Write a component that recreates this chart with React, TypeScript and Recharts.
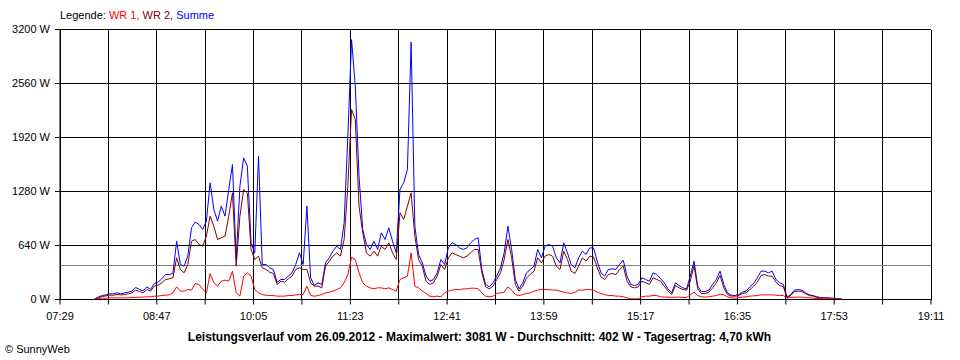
import React from 'react';
import { LineChart, Line, XAxis, YAxis, CartesianGrid, ReferenceLine } from 'recharts';

// samples every 3 minutes, first one at 07:57
const START_MIN = 477;
const STEP_MIN = 3;

const summe = [
  8, 30, 47, 55, 67, 67, 79, 67, 79, 87,
  99, 142, 119, 103, 150, 119, 190, 205, 245, 296,
  296, 308, 691, 415, 395, 514, 850, 917, 889, 830,
  929, 1383, 1067, 929, 1106, 988, 1304, 1600, 474, 1343,
  1679, 1580, 672, 553, 1699, 415, 415, 375, 356, 205,
  237, 237, 277, 316, 415, 553, 415, 1106, 257, 166,
  198, 178, 435, 494, 573, 632, 593, 909, 1936, 3081,
  2529, 1462, 830, 652, 593, 691, 593, 790, 711, 849,
  691, 553, 1304, 1383, 1541, 3050, 869, 533, 435, 280,
  217, 237, 316, 474, 415, 612, 672, 652, 612, 593,
  612, 672, 711, 731, 356, 178, 150, 198, 277, 375,
  553, 869, 593, 237, 126, 198, 316, 356, 395, 593,
  494, 632, 652, 632, 494, 435, 672, 553, 415, 375,
  494, 573, 533, 612, 612, 454, 316, 277, 356, 363,
  356, 415, 466, 277, 178, 166, 178, 257, 237, 217,
  316, 296, 250, 198, 126, 79, 198, 166, 138, 126,
  277, 454, 158, 91, 95, 111, 178, 237, 336, 178,
  79, 51, 47, 59, 87, 99, 150, 190, 257, 336,
  336, 316, 336, 237, 198, 178, 28, 59, 111, 118,
  111, 79, 55, 47, 32, 24, 20, 20, 16, 12,
  8, 0,
];

const wr2 = [
  8, 20, 36, 43, 51, 51, 59, 55, 59, 67,
  79, 111, 95, 79, 119, 99, 158, 170, 198, 237,
  245, 257, 494, 356, 316, 415, 691, 711, 652, 632,
  751, 988, 869, 711, 731, 751, 988, 1264, 395, 988,
  1304, 1264, 593, 474, 514, 375, 356, 324, 308, 178,
  217, 205, 245, 277, 356, 375, 356, 356, 198, 158,
  158, 138, 395, 454, 514, 553, 514, 711, 1343, 2252,
  2134, 1106, 790, 553, 514, 573, 514, 632, 593, 672,
  553, 474, 1027, 948, 1106, 1264, 751, 474, 395, 217,
  178, 198, 277, 415, 356, 494, 553, 533, 514, 494,
  514, 553, 593, 593, 316, 150, 126, 158, 237, 316,
  474, 711, 494, 178, 99, 158, 257, 296, 336, 494,
  435, 514, 533, 514, 395, 356, 573, 474, 336, 308,
  395, 494, 454, 514, 506, 375, 269, 237, 296, 308,
  296, 356, 395, 217, 150, 138, 150, 217, 198, 178,
  257, 237, 217, 158, 99, 59, 166, 138, 118, 111,
  217, 403, 126, 71, 71, 87, 138, 198, 284, 138,
  59, 40, 40, 47, 71, 79, 118, 158, 205, 284,
  296, 277, 277, 205, 166, 150, 20, 47, 95, 99,
  95, 67, 47, 40, 24, 20, 16, 16, 12, 8,
  8, 0,
];

const wr1 = [
  8, 12, 16, 16, 20, 20, 20, 20, 20, 20,
  24, 24, 28, 28, 32, 32, 40, 40, 47, 51,
  55, 79, 150, 99, 99, 119, 111, 190, 178, 119,
  79, 308, 198, 158, 217, 229, 217, 336, 79, 40,
  277, 316, 277, 119, 79, 59, 51, 47, 47, 40,
  40, 40, 47, 47, 55, 59, 59, 158, 47, 40,
  47, 59, 79, 87, 99, 118, 138, 198, 296, 500,
  474, 316, 198, 158, 138, 126, 138, 138, 126, 138,
  118, 99, 237, 257, 277, 553, 158, 138, 100, 71,
  40, 32, 40, 32, 79, 99, 111, 118, 118, 126,
  126, 134, 134, 126, 79, 40, 32, 40, 71, 79,
  87, 150, 111, 59, 47, 59, 71, 79, 99, 111,
  118, 118, 118, 111, 111, 99, 87, 79, 71, 87,
  111, 111, 118, 118, 111, 87, 71, 59, 47, 47,
  40, 40, 32, 20, 8, 8, 8, 32, 40, 40,
  47, 47, 32, 28, 28, 24, 28, 28, 24, 24,
  55, 87, 47, 32, 28, 32, 40, 47, 63, 55,
  32, 20, 16, 24, 28, 32, 40, 43, 47, 55,
  55, 55, 55, 51, 47, 47, 16, 24, 28, 28,
  28, 24, 20, 16, 12, 12, 8, 8, 8, 4,
  4, 0,
];

const xTicks = [449, 488, 527, 566, 605, 644, 683, 722, 761, 800, 839, 878, 917, 956, 995, 1034, 1073, 1112, 1151];
const xLabels: Record<number, string> = {
  449: '07:29', 527: '08:47', 605: '10:05', 683: '11:23', 761: '12:41',
  839: '13:59', 917: '15:17', 995: '16:35', 1073: '17:53', 1151: '19:11',
};
const yTicks = [0, 640, 1280, 1920, 2560, 3200];
const AVERAGE = 402;

const data = summe.map((s, i) => ({
  t: START_MIN + i * STEP_MIN,
  summe: s,
  wr2: wr2[i],
  wr1: wr1[i],
}));

const font = '"Liberation Sans", Arial, sans-serif';
const tick = { fontSize: 11, fill: '#000', fontFamily: font };

export default function App() {
  return (
    <div style={{ position: 'absolute', left: 0, top: 0, width: 960, height: 360, background: '#fff', fontFamily: font, color: '#000' }}>
      <div style={{ position: 'absolute', left: 60, top: 9, fontSize: 11, lineHeight: '12px', whiteSpace: 'nowrap' }}>
        Legende: <span style={{ color: '#ff0000' }}>WR 1, </span>
        <span style={{ color: '#800000' }}>WR 2, </span>
        <span style={{ color: '#0000ff' }}>Summe</span>
      </div>
      <LineChart width={960} height={360} data={data} margin={{ top: 29.5, right: 29, left: 0, bottom: 40.5 }}>
        <CartesianGrid stroke="#000" vertical horizontal shapeRendering="crispEdges" />
        <XAxis
          dataKey="t"
          type="number"
          domain={[449, 1151]}
          ticks={xTicks}
          interval={0}
          height={20}
          tickSize={5}
          tickMargin={8}
          tick={tick}
          stroke="#000"
          tickFormatter={(v: number) => xLabels[v] ?? ''}
        />
        <YAxis
          domain={[0, 3200]}
          ticks={yTicks}
          interval={0}
          width={60}
          tickSize={5}
          tickMargin={5}
          tick={tick}
          stroke="#000"
          tickFormatter={(v: number) => `${v} W`}
        />
        <ReferenceLine y={AVERAGE} stroke="#808080" shapeRendering="crispEdges" />
        <Line dataKey="summe" stroke="#0000ff" strokeWidth={1} dot={false} type="linear" isAnimationActive={false} />
        <Line dataKey="wr2" stroke="#800000" strokeWidth={1} dot={false} type="linear" isAnimationActive={false} />
        <Line dataKey="wr1" stroke="#ff0000" strokeWidth={1} dot={false} type="linear" isAnimationActive={false} />
      </LineChart>
      <div style={{ position: 'absolute', left: 0, width: 959, top: 330.5, textAlign: 'center', fontSize: 12, lineHeight: '13px', fontWeight: 'bold', whiteSpace: 'nowrap' }}>
        Leistungsverlauf vom 26.09.2012 - Maximalwert: 3081 W - Durchschnitt: 402 W - Tagesertrag: 4,70 kWh
      </div>
      <div style={{ position: 'absolute', left: 5, top: 342.5, fontSize: 11, lineHeight: '12px', whiteSpace: 'nowrap' }}>
        © SunnyWeb
      </div>
    </div>
  );
}
